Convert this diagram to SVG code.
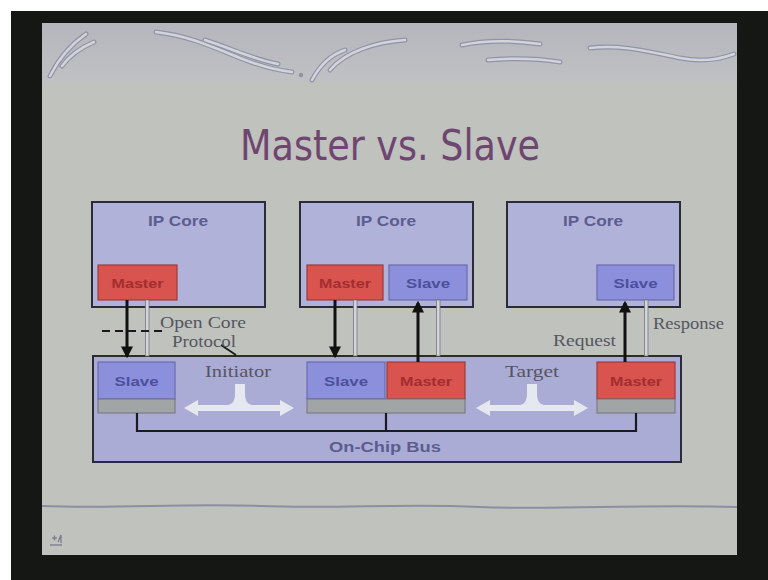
<svg xmlns="http://www.w3.org/2000/svg" width="768" height="580" viewBox="0 0 768 580">
  <defs>
    <style>
      .core { fill: #b1b2da; stroke: #2c2c38; stroke-width: 2; }
      .bus { fill: #abacd6; stroke: #2c2c38; stroke-width: 2; }
      .slave { fill: #8c8fdc; stroke: #6a6cae; stroke-width: 1.2; }
      .master { fill: #d9534f; stroke: #a03a3a; stroke-width: 1.2; }
      .strip { fill: #a2a5a6; stroke: #70737a; stroke-width: 1; }
      .hd { font-family: "Liberation Sans", Arial, sans-serif; font-weight: bold; font-size: 14.5px; fill: #5c5d8e; text-anchor: middle; }
      .ms { font-family: "Liberation Sans", Arial, sans-serif; font-weight: bold; font-size: 13.5px; fill: #a32e2e; text-anchor: middle; }
      .sl { font-family: "Liberation Sans", Arial, sans-serif; font-weight: bold; font-size: 13.5px; fill: #4b4f9c; text-anchor: middle; }
      .lbl { font-family: "Liberation Serif", "Times New Roman", serif; font-size: 16.5px; fill: #55565e; }
      .thick { stroke: #111; stroke-width: 3; fill: none; }
      .sig { fill: #d4d5da; stroke: #75767e; stroke-width: 0.8; }
      .wire { stroke: #1a1a22; stroke-width: 2.2; fill: none; }
      .swirl-d { fill: none; stroke: #9294a6; stroke-width: 5; stroke-linecap: round; }
      .swirl-l { fill: none; stroke: #d2d4dc; stroke-width: 2.5; stroke-linecap: round; }
      .flow { fill: #e6e8f0; }
    </style>
    <marker id="ah" viewBox="0 0 10 10" refX="8" refY="5" markerWidth="4" markerHeight="4" orient="auto" markerUnits="strokeWidth">
      <path d="M0,0 L10,5 L0,10 z" fill="#111"/>
    </marker>
    <linearGradient id="band" x1="0" y1="0" x2="0" y2="1">
      <stop offset="0" stop-color="#b4b6bd"/>
      <stop offset="1" stop-color="#bfc1c3"/>
    </linearGradient>
  </defs>

  <!-- outer frame -->
  <rect x="0" y="0" width="768" height="580" fill="#ffffff"/>
  <rect x="11" y="11" width="757" height="569" fill="#151714"/>
  <rect x="42" y="23" width="695" height="532" fill="#c0c2be"/>

  <!-- header band with decorative swirls -->
  <rect x="42" y="23" width="695" height="60" fill="url(#band)"/>
  <g id="swirls">
    <path class="swirl-d" d="M50,76 C58,60 70,45 86,34"/>
    <path class="swirl-l" d="M50,76 C58,60 70,45 86,34"/>
    <path class="swirl-d" d="M62,66 C70,55 80,48 94,42"/>
    <path class="swirl-l" d="M62,66 C70,55 80,48 94,42"/>
    <path class="swirl-d" d="M156,32 C190,36 215,48 240,58 C260,66 275,70 292,72"/>
    <path class="swirl-l" d="M156,32 C190,36 215,48 240,58 C260,66 275,70 292,72"/>
    <path class="swirl-d" d="M205,40 C230,48 255,60 278,64"/>
    <path class="swirl-l" d="M205,40 C230,48 255,60 278,64"/>
    <circle cx="301" cy="75" r="2.2" fill="#8f91a2"/>
    <path class="swirl-d" d="M312,80 C320,65 330,55 345,50"/>
    <path class="swirl-l" d="M312,80 C320,65 330,55 345,50"/>
    <path class="swirl-d" d="M330,70 C345,52 375,42 405,40"/>
    <path class="swirl-l" d="M330,70 C345,52 375,42 405,40"/>
    <path class="swirl-d" d="M462,45 C485,40 510,40 540,44"/>
    <path class="swirl-l" d="M462,45 C485,40 510,40 540,44"/>
    <path class="swirl-d" d="M488,60 C510,58 535,58 560,62"/>
    <path class="swirl-l" d="M488,60 C510,58 535,58 560,62"/>
    <path class="swirl-d" d="M590,48 C620,44 650,52 680,58 C700,62 718,60 734,54"/>
    <path class="swirl-l" d="M590,48 C620,44 650,52 680,58 C700,62 718,60 734,54"/>
  </g>

  <!-- title -->
  <text x="390" y="160" text-anchor="middle" font-family="DejaVu Sans, Verdana, sans-serif" font-size="43" fill="#6e4670" textLength="300" lengthAdjust="spacingAndGlyphs">Master vs. Slave</text>

  <!-- IP cores -->
  <g id="core1">
    <rect class="core" x="92" y="202" width="173" height="105"/>
    <text class="hd" x="178" y="226" textLength="60" lengthAdjust="spacingAndGlyphs">IP Core</text>
    <g id="core1-master">
      <rect class="master" x="98" y="265" width="79" height="35"/>
      <text class="ms" x="137.5" y="287.5" textLength="52" lengthAdjust="spacingAndGlyphs">Master</text>
    </g>
  </g>
  <g id="core2">
    <rect class="core" x="300" y="202" width="173" height="105"/>
    <text class="hd" x="386" y="226" textLength="60" lengthAdjust="spacingAndGlyphs">IP Core</text>
    <g id="core2-master">
      <rect class="master" x="307" y="265" width="76" height="35"/>
      <text class="ms" x="345" y="287.5" textLength="52" lengthAdjust="spacingAndGlyphs">Master</text>
    </g>
    <g id="core2-slave">
      <rect class="slave" x="389" y="265" width="78" height="35"/>
      <text class="sl" x="428" y="287.5" textLength="44" lengthAdjust="spacingAndGlyphs">Slave</text>
    </g>
  </g>
  <g id="core3">
    <rect class="core" x="507" y="202" width="173" height="105"/>
    <text class="hd" x="593" y="226" textLength="60" lengthAdjust="spacingAndGlyphs">IP Core</text>
    <g id="core3-slave">
      <rect class="slave" x="597" y="265" width="77" height="35"/>
      <text class="sl" x="635.5" y="287.5" textLength="44" lengthAdjust="spacingAndGlyphs">Slave</text>
    </g>
  </g>

  <!-- on-chip bus -->
  <g id="bus">
    <rect class="bus" x="93" y="356" width="588" height="106"/>
    <text class="hd" x="385" y="452" font-size="15" textLength="112" lengthAdjust="spacingAndGlyphs">On-Chip Bus</text>
  </g>
  <g id="bus-port1">
    <rect class="slave" x="98" y="362" width="77" height="37"/>
    <rect class="strip" x="98" y="399" width="77" height="14"/>
    <text class="sl" x="136.5" y="385.5" textLength="44" lengthAdjust="spacingAndGlyphs">Slave</text>
  </g>
  <g id="bus-port2">
    <rect class="slave" x="307" y="362" width="78" height="37"/>
    <rect class="master" x="387" y="362" width="78" height="37"/>
    <rect class="strip" x="307" y="399" width="158" height="14"/>
    <text class="sl" x="346" y="385.5" textLength="44" lengthAdjust="spacingAndGlyphs">Slave</text>
    <text class="ms" x="426" y="385.5" textLength="52" lengthAdjust="spacingAndGlyphs">Master</text>
  </g>
  <g id="bus-port3">
    <rect class="master" x="597" y="362" width="78" height="37"/>
    <rect class="strip" x="597" y="399" width="78" height="14"/>
    <text class="ms" x="636" y="385.5" textLength="52" lengthAdjust="spacingAndGlyphs">Master</text>
  </g>

  <!-- initiator / target flow marks -->
  <g id="initiator">
    <path class="flow" d="M184,408 L198,400 L198,405 L228,405 C233,404 235,400 235,394 L235,384 L245,384 L245,394 C245,400 247,404 252,405 L280,405 L280,400 L294,408 L280,416 L280,411 L198,411 L198,416 Z"/>
    <text class="lbl" x="205" y="377" textLength="66" lengthAdjust="spacingAndGlyphs">Initiator</text>
  </g>
  <g id="target">
    <path class="flow" d="M476,408 L490,400 L490,405 L520,405 C525,404 527,400 527,394 L527,384 L537,384 L537,394 C537,400 539,404 544,405 L574,405 L574,400 L588,408 L574,416 L574,411 L490,411 L490,416 Z"/>
    <text class="lbl" x="505" y="377" textLength="54" lengthAdjust="spacingAndGlyphs">Target</text>
  </g>

  <!-- connectors -->
  <g id="connectors">
    <line class="thick" x1="127" y1="300" x2="127" y2="356" marker-end="url(#ah)"/>
    <line class="thick" x1="335" y1="300" x2="335" y2="356" marker-end="url(#ah)"/>
    <line class="thick" x1="418" y1="362" x2="418" y2="303" marker-end="url(#ah)"/>
    <line class="thick" x1="625" y1="362" x2="625" y2="303" marker-end="url(#ah)"/>
    <rect class="sig" x="145.5" y="300" width="3.5" height="56"/>
    <rect class="sig" x="353.5" y="300" width="3.5" height="56"/>
    <rect class="sig" x="436.5" y="300" width="3.5" height="56"/>
    <rect class="sig" x="644.5" y="300" width="3.5" height="56"/>
    <line x1="102" y1="331" x2="166" y2="331" stroke="#1a1a1a" stroke-width="2" stroke-dasharray="8,5"/>
    <line x1="221" y1="345" x2="236" y2="355" stroke="#1a1a1a" stroke-width="1.8"/>
    <path class="wire" d="M137,413 L137,431 L636,431 L636,413 M386,413 L386,431"/>
  </g>

  <!-- signal labels -->
  <text class="lbl" x="160" y="328" textLength="86" lengthAdjust="spacingAndGlyphs">Open Core</text>
  <text class="lbl" x="172" y="347" textLength="64" lengthAdjust="spacingAndGlyphs">Protocol</text>
  <text class="lbl" x="553" y="346" textLength="63" lengthAdjust="spacingAndGlyphs">Request</text>
  <text class="lbl" x="653" y="329" textLength="71" lengthAdjust="spacingAndGlyphs">Response</text>

  <!-- footer rule and logo -->
  <path d="M42,506 C120,509 180,503 260,506 C340,509 400,503 480,507 C560,510 640,504 737,507" fill="none" stroke="#8c8ea2" stroke-width="2"/>
  <g id="logo" stroke="#7a7c88" stroke-width="1.3" fill="none">
    <line x1="50" y1="545" x2="62" y2="545"/>
    <line x1="52" y1="538" x2="57" y2="538"/>
    <line x1="54.5" y1="535.5" x2="54.5" y2="540.5"/>
    <path d="M58,542 L61,535 L61,543"/>
  </g>
</svg>
